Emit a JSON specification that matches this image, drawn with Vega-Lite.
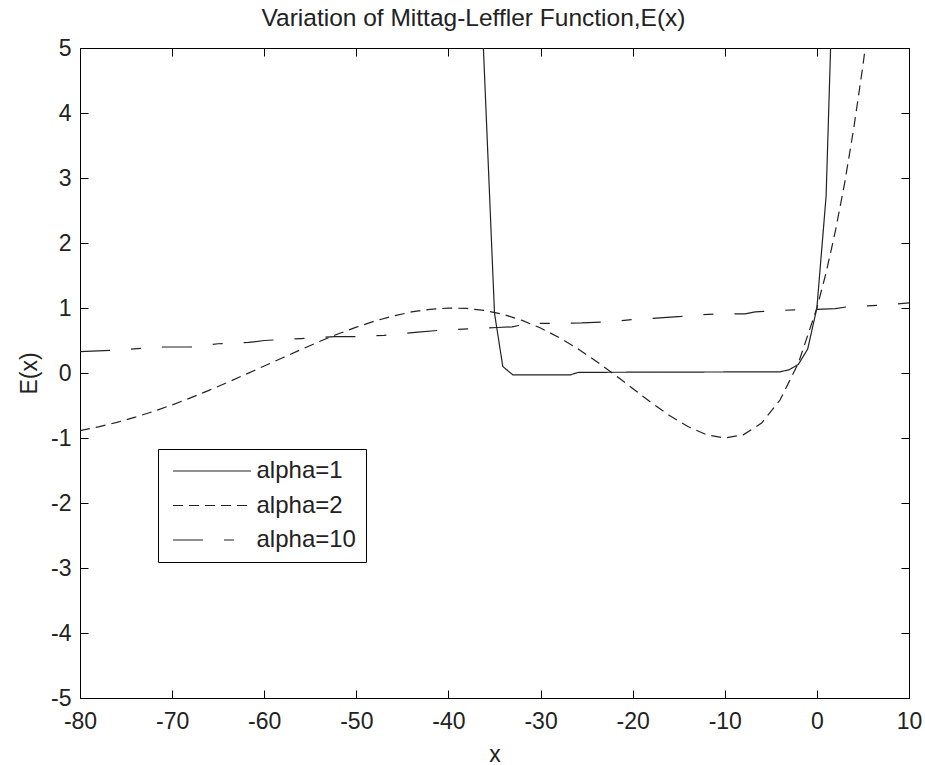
{
  "$schema": "https://vega.github.io/schema/vega-lite/v6.json",
  "width": 829,
  "height": 650,
  "autosize": {"type": "none"},
  "padding": {"left": 80, "top": 48, "right": 16, "bottom": 67},
  "background": "white",
  "title": {"text": "Variation of Mittag-Leffler Function,E(x)", "fontSize": 24.5, "font": "Liberation Sans", "fontWeight": "normal", "color": "#222", "frame": "group", "anchor": "middle", "offset": 6, "dx": -21},
  "config": {
    "view": {"stroke": "black", "strokeWidth": 1},
    "axis": {"grid": false, "domainColor": "black", "tickColor": "black", "labelFont": "Liberation Sans", "labelFontSize": 23, "labelColor": "#222", "titleFont": "Liberation Sans", "titleFontSize": 23, "titleFontWeight": "normal", "titleColor": "#222", "tickSize": -8, "labelFlush": false, "labelOverlap": false, "labelExpr": "'' + datum.value"}
  },
  "data": {"values": [
    {"series": "alpha=1", "x": -36.5, "y": 6.0},
    {"series": "alpha=1", "x": -35.0, "y": 0.92},
    {"series": "alpha=1", "x": -34.1, "y": 0.1},
    {"series": "alpha=1", "x": -33.0, "y": -0.03},
    {"series": "alpha=1", "x": -26.8, "y": -0.03},
    {"series": "alpha=1", "x": -25.9, "y": 0.01},
    {"series": "alpha=1", "x": -4.0, "y": 0.018},
    {"series": "alpha=1", "x": -3.0, "y": 0.05},
    {"series": "alpha=1", "x": -2.0, "y": 0.135},
    {"series": "alpha=1", "x": -1.0, "y": 0.368},
    {"series": "alpha=1", "x": 0.0, "y": 1.0},
    {"series": "alpha=1", "x": 1.0, "y": 2.718},
    {"series": "alpha=1", "x": 2.0, "y": 7.389},
    {"series": "alpha=2", "x": -80, "y": -0.886},
    {"series": "alpha=2", "x": -78, "y": -0.829},
    {"series": "alpha=2", "x": -76, "y": -0.76},
    {"series": "alpha=2", "x": -74, "y": -0.68},
    {"series": "alpha=2", "x": -72, "y": -0.59},
    {"series": "alpha=2", "x": -70, "y": -0.491},
    {"series": "alpha=2", "x": -68, "y": -0.382},
    {"series": "alpha=2", "x": -66, "y": -0.267},
    {"series": "alpha=2", "x": -64, "y": -0.146},
    {"series": "alpha=2", "x": -62, "y": -0.02},
    {"series": "alpha=2", "x": -60, "y": 0.107},
    {"series": "alpha=2", "x": -58, "y": 0.235},
    {"series": "alpha=2", "x": -56, "y": 0.362},
    {"series": "alpha=2", "x": -54, "y": 0.485},
    {"series": "alpha=2", "x": -52, "y": 0.6},
    {"series": "alpha=2", "x": -50, "y": 0.705},
    {"series": "alpha=2", "x": -48, "y": 0.799},
    {"series": "alpha=2", "x": -46, "y": 0.878},
    {"series": "alpha=2", "x": -44, "y": 0.939},
    {"series": "alpha=2", "x": -42, "y": 0.98},
    {"series": "alpha=2", "x": -40, "y": 0.999},
    {"series": "alpha=2", "x": -38, "y": 0.993},
    {"series": "alpha=2", "x": -36, "y": 0.96},
    {"series": "alpha=2", "x": -34, "y": 0.9},
    {"series": "alpha=2", "x": -32, "y": 0.81},
    {"series": "alpha=2", "x": -30, "y": 0.692},
    {"series": "alpha=2", "x": -28, "y": 0.547},
    {"series": "alpha=2", "x": -26, "y": 0.377},
    {"series": "alpha=2", "x": -24, "y": 0.186},
    {"series": "alpha=2", "x": -22, "y": -0.022},
    {"series": "alpha=2", "x": -20, "y": -0.238},
    {"series": "alpha=2", "x": -18, "y": -0.453},
    {"series": "alpha=2", "x": -16, "y": -0.654},
    {"series": "alpha=2", "x": -14, "y": -0.824},
    {"series": "alpha=2", "x": -12, "y": -0.949},
    {"series": "alpha=2", "x": -10, "y": -1.0},
    {"series": "alpha=2", "x": -8, "y": -0.951},
    {"series": "alpha=2", "x": -6, "y": -0.77},
    {"series": "alpha=2", "x": -4, "y": -0.416},
    {"series": "alpha=2", "x": -2, "y": 0.156},
    {"series": "alpha=2", "x": 0, "y": 1.0},
    {"series": "alpha=2", "x": 1, "y": 1.543},
    {"series": "alpha=2", "x": 2, "y": 2.178},
    {"series": "alpha=2", "x": 3, "y": 2.911},
    {"series": "alpha=2", "x": 4, "y": 3.762},
    {"series": "alpha=2", "x": 5, "y": 4.731},
    {"series": "alpha=2", "x": 6, "y": 5.84},
    {"series": "alpha=10", "x": -80, "y": 0.33},
    {"series": "alpha=10", "x": -76.5, "y": 0.35},
    {"series": "alpha=10", "x": -71, "y": 0.4},
    {"series": "alpha=10", "x": -68, "y": 0.4},
    {"series": "alpha=10", "x": -65, "y": 0.45},
    {"series": "alpha=10", "x": -61.7, "y": 0.47},
    {"series": "alpha=10", "x": -60, "y": 0.5},
    {"series": "alpha=10", "x": -56, "y": 0.53},
    {"series": "alpha=10", "x": -52.3, "y": 0.56},
    {"series": "alpha=10", "x": -49.8, "y": 0.56},
    {"series": "alpha=10", "x": -47, "y": 0.58},
    {"series": "alpha=10", "x": -43.3, "y": 0.63},
    {"series": "alpha=10", "x": -40.7, "y": 0.66},
    {"series": "alpha=10", "x": -37.8, "y": 0.68},
    {"series": "alpha=10", "x": -34.7, "y": 0.7},
    {"series": "alpha=10", "x": -33.1, "y": 0.71},
    {"series": "alpha=10", "x": -31.3, "y": 0.76},
    {"series": "alpha=10", "x": -25.5, "y": 0.77},
    {"series": "alpha=10", "x": -22.6, "y": 0.79},
    {"series": "alpha=10", "x": -20.1, "y": 0.82},
    {"series": "alpha=10", "x": -14.7, "y": 0.87},
    {"series": "alpha=10", "x": -13.6, "y": 0.89},
    {"series": "alpha=10", "x": -10.7, "y": 0.91},
    {"series": "alpha=10", "x": -7.8, "y": 0.91},
    {"series": "alpha=10", "x": -6.7, "y": 0.94},
    {"series": "alpha=10", "x": -4.5, "y": 0.96},
    {"series": "alpha=10", "x": -2.4, "y": 0.97},
    {"series": "alpha=10", "x": 0, "y": 0.98},
    {"series": "alpha=10", "x": 2, "y": 0.99},
    {"series": "alpha=10", "x": 3.4, "y": 1.02},
    {"series": "alpha=10", "x": 7.8, "y": 1.05},
    {"series": "alpha=10", "x": 10, "y": 1.08}
  ]},
  "layer": [
    {
      "mark": {"type": "line", "clip": true, "color": "#222", "strokeWidth": 1.2},
      "encoding": {
        "x": {"field": "x", "type": "quantitative", "scale": {"domain": [-80, 10], "nice": false, "zero": false},
              "axis": {"values": [-80, -70, -60, -50, -40, -30, -20, -10, 0, 10], "title": "x", "labelPadding": 20, "titlePadding": 10}},
        "y": {"field": "y", "type": "quantitative", "scale": {"domain": [-5, 5], "nice": false},
              "axis": {"values": [-5, -4, -3, -2, -1, 0, 1, 2, 3, 4, 5], "title": "E(x)", "labelPadding": 17, "titlePadding": 9}},
        "strokeDash": {"field": "series", "type": "nominal",
                       "scale": {"domain": ["alpha=1", "alpha=2", "alpha=10"], "range": [[1, 0], [10, 6], [30, 21, 10, 21]]},
                       "legend": {"orient": "none", "legendX": 78, "legendY": 401, "title": null, "symbolType": "stroke", "symbolSize": 6084, "clipHeight": 24, "symbolOffset": 4, "symbolStrokeWidth": 1.2, "symbolStrokeColor": "#222", "labelFont": "Liberation Sans", "labelFontSize": 24, "labelColor": "#222", "labelOffset": 4.5, "rowPadding": 10.5, "padding": 10, "strokeColor": "black", "fillColor": "white"}}
      }
    },
    {
      "mark": {"type": "line", "clip": true, "strokeOpacity": 0},
      "encoding": {
        "x": {"field": "x", "type": "quantitative", "axis": {"orient": "top", "values": [-80, -70, -60, -50, -40, -30, -20, -10, 0, 10], "labels": false, "title": null}},
        "y": {"field": "y", "type": "quantitative", "axis": {"orient": "right", "values": [-5, -4, -3, -2, -1, 0, 1, 2, 3, 4, 5], "labels": false, "title": null}},
        "detail": {"field": "series"}
      }
    }
  ],
  "resolve": {"axis": {"x": "independent", "y": "independent"}}
}
